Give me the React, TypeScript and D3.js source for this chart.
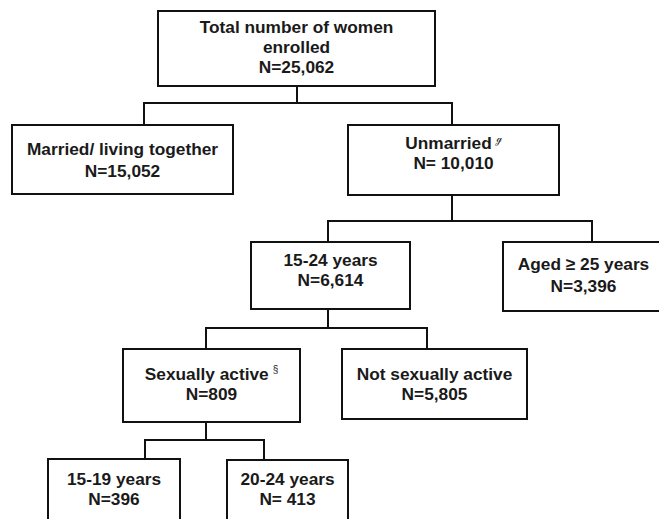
import { useEffect, useRef } from 'react';
import * as d3 from 'd3';

// flowchart content
const titles = [
  ['Total number of women', 'enrolled'],
  ['Married/ living together'],
  ['Unmarried'],
  ['15-24 years'],
  ['Aged \u2265 25 years'],
  ['Sexually active'],
  ['Not sexually active'],
  ['15-19 years'],
  ['20-24 years'],
];
const marks = ['', '', '\u210A', '', '', '\u00A7', '', '', ''];
const counts = [25062, 15052, 10010, 6614, 3396, 809, 5805, 396, 413];
const countPrefix = ['N=', 'N=', 'N= ', 'N=', 'N=', 'N=', 'N=', 'N=', 'N= '];
const parents = [-1, 0, 0, 2, 2, 3, 3, 5, 5];

// layout (px): box edges, x where the connector meets the box,
// y of the branching bar, first text baseline and line gap
const boxX0 = [158, 12, 348, 251, 503, 123, 342, 48, 227];
const boxX1 = [435, 233, 559, 410, 664, 300, 527, 180, 348];
const boxY0 = [11, 125, 125, 242, 242, 349, 349, 459, 460];
const boxY1 = [86, 194, 195, 309, 311, 422, 419, 530, 530];
const stemX = [297, 144, 452, 328, 592, 206, 427, 145, 264];
const barY = [103, 0, 221, 328, 0, 440, 0, 0, 0];
const textY = [33.3, 155, 148.5, 266, 270, 380, 379.5, 485, 485];
const lineGap = [20, 21.7, 20, 20, 21.5, 20, 20.5, 20, 20];

const W = 659;
const H = 519;
const FS = 17.3;

export default function App() {
  const ref = useRef<SVGSVGElement>(null);

  useEffect(() => {
    if (!ref.current) return;
    const svg = d3.select(ref.current);
    svg.selectAll('*').remove();

    const fmt = d3.format(',');
    const idx = d3.range(counts.length);

    svg.append('rect').attr('width', W).attr('height', H).attr('fill', '#fff');

    // connectors: parent stem down to a bar, then drop to each child
    const links = svg.append('g')
      .attr('fill', 'none')
      .attr('stroke', '#111')
      .attr('stroke-width', 2);

    idx.forEach((p) => {
      const kids = idx.filter((i) => parents[i] === p);
      if (!kids.length) return;
      const yBar = barY[p];
      const path = d3.path();
      path.moveTo(stemX[p], boxY1[p]);
      path.lineTo(stemX[p], yBar);
      const xs = kids.map((k) => stemX[k]);
      path.moveTo(d3.min(xs)! - 1, yBar);
      path.lineTo(d3.max(xs)! + 1, yBar);
      kids.forEach((k) => {
        path.moveTo(stemX[k], yBar);
        path.lineTo(stemX[k], boxY0[k]);
      });
      links.append('path').attr('d', path.toString());
    });

    const node = svg.append('g')
      .selectAll('g')
      .data(idx)
      .join('g');

    node.append('rect')
      .attr('x', (i) => boxX0[i])
      .attr('y', (i) => boxY0[i])
      .attr('width', (i) => boxX1[i] - boxX0[i])
      .attr('height', (i) => boxY1[i] - boxY0[i])
      .attr('fill', '#fff')
      .attr('stroke', '#111')
      .attr('stroke-width', 2);

    node.each(function (i) {
      const g = d3.select(this);
      const lines = [...titles[i], countPrefix[i] + fmt(counts[i])];
      const cx = (boxX0[i] + boxX1[i]) / 2;
      const text = g.append('text')
        .attr('text-anchor', 'middle')
        .attr('font-family', '"Liberation Sans", Arial, sans-serif')
        .attr('font-weight', 'bold')
        .attr('font-size', FS)
        .attr('fill', '#1a1a1a');
      lines.forEach((l, j) => {
        const t = text.append('tspan')
          .attr('x', cx)
          .attr('y', textY[i] + j * lineGap[i])
          .text(l);
        if (j === 0 && marks[i]) {
          t.append('tspan')
            .attr('font-size', 10)
            .attr('dx', 4)
            .attr('dy', -7)
            .attr('font-weight', 'normal')
            .text(marks[i]);
        }
      });
    });
  }, []);

  return (
    <svg
      ref={ref}
      width={W}
      height={H}
      style={{ position: 'absolute', left: 0, top: 0, display: 'block' }}
    />
  );
}
